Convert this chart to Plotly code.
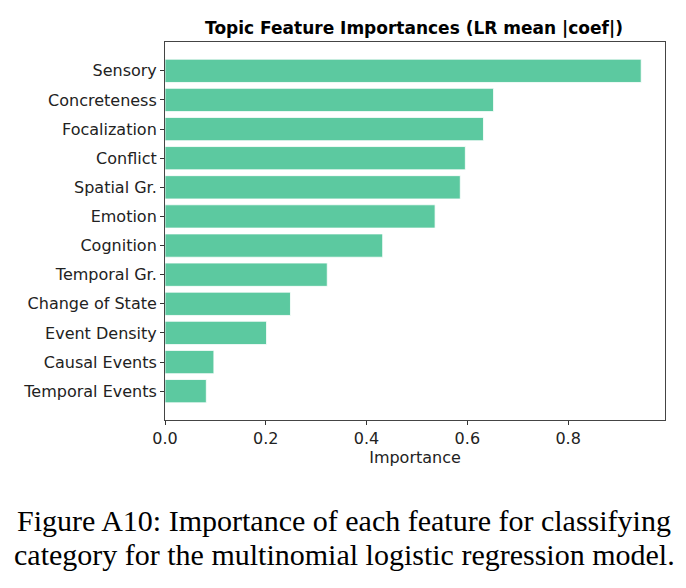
import plotly.graph_objects as go

features = ["Sensory", "Concreteness", "Focalization", "Conflict", "Spatial Gr.",
            "Emotion", "Cognition", "Temporal Gr.", "Change of State",
            "Event Density", "Causal Events", "Temporal Events"]
importance = [0.945, 0.652, 0.632, 0.596, 0.586, 0.536, 0.432, 0.322, 0.249,
              0.2015, 0.097, 0.082]
x_ticks = [0.0, 0.2, 0.4, 0.6, 0.8]
x_tick_labels = ["0.0", "0.2", "0.4", "0.6", "0.8"]

title = "Topic Feature Importances (LR mean |coef|)"
caption1 = "Figure A10: Importance of each feature for classifying"
caption2 = "category for the multinomial logistic regression model."

y_cats = features[::-1]
x_vals = importance[::-1]

fig = go.Figure(go.Bar(
    x=x_vals, y=y_cats, orientation="h",
    marker=dict(color="#5cc9a0", line=dict(color="#ffffff", width=0.8)),
    width=0.8,
))

n = len(features)
fig.update_layout(
    width=686, height=588,
    margin=dict(l=165, r=21, t=42, b=168),
    paper_bgcolor="white", plot_bgcolor="white",
    showlegend=False,
    font=dict(family="DejaVu Sans", size=16, color="#222"),
    title=dict(text="<b>" + title + "</b>", x=0.6035, xanchor="center",
               y=1 - 28 / 588, yanchor="middle",
               font=dict(family="DejaVu Sans", size=17, color="black")),
)
fig.update_xaxes(
    range=[0, max(importance) * 1.05],
    tickvals=x_ticks, ticktext=x_tick_labels,
    ticks="outside", ticklen=4, tickcolor="#333",
    showline=True, linecolor="#444", linewidth=1, mirror=True,
    showgrid=False, zeroline=False,
    title=dict(text="Importance", standoff=4, font=dict(size=16)),
    tickfont=dict(size=16),
)
fig.update_yaxes(
    type="category", categoryorder="array", categoryarray=y_cats,
    range=[-0.99, n - 1 + 0.99],
    ticks="outside", ticklen=4, tickcolor="#333",
    showline=True, linecolor="#444", linewidth=1, mirror=True,
    showgrid=False, zeroline=False,
    tickfont=dict(size=16),
)

fig.add_annotation(text=caption1, xref="paper", yref="paper",
                   x=(344 - 165) / 500, y=(420 - 520) / 378,
                   xanchor="center", yanchor="middle", showarrow=False,
                   font=dict(family="Liberation Serif", size=30, color="black"))
fig.add_annotation(text=caption2, xref="paper", yref="paper",
                   x=(344 - 165) / 500, y=(420 - 554) / 378,
                   xanchor="center", yanchor="middle", showarrow=False,
                   font=dict(family="Liberation Serif", size=30, color="black"))

fig.write_html("out.html")
